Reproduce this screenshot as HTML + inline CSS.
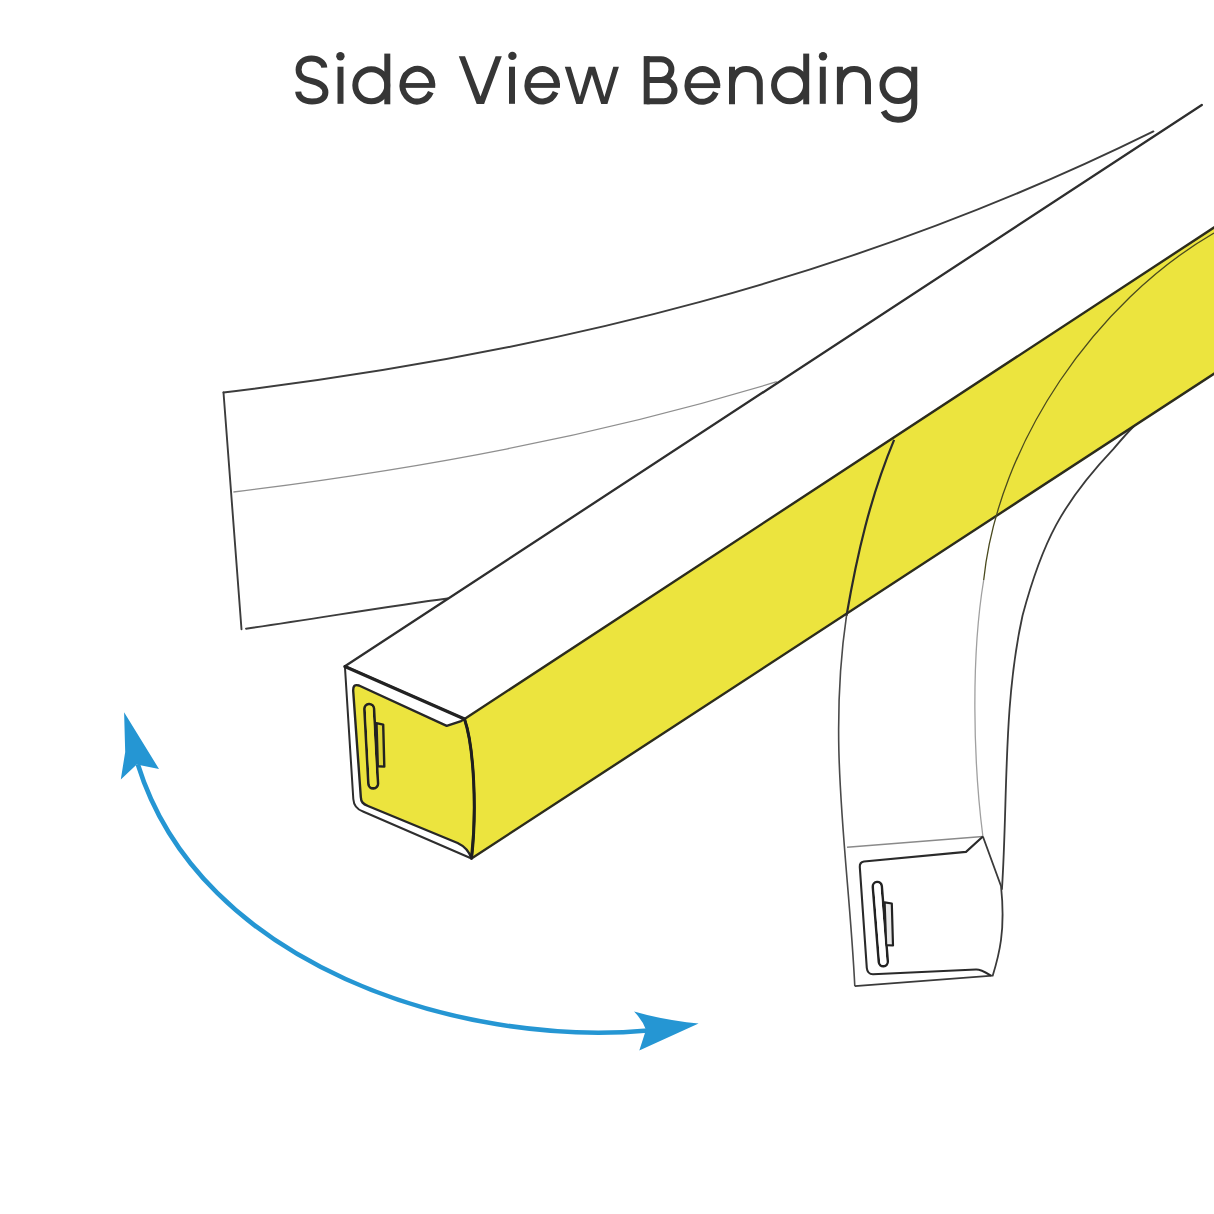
<!DOCTYPE html>
<html>
<head>
<meta charset="utf-8">
<title>Side View Bending</title>
<style>
html,body{margin:0;padding:0;background:#fff;}
body{width:1214px;height:1214px;overflow:hidden;position:relative;font-family:"Liberation Sans",sans-serif;}
svg{position:absolute;left:0;top:0;display:block;}
</style>
</head>
<body>
<svg width="1214" height="1214" viewBox="0 0 1214 1214">
<defs>
<clipPath id="wclip"><rect x="560" y="66.7" width="65" height="37.1"/></clipPath>
</defs>
<rect width="1214" height="1214" fill="#fff"/>

<!-- TITLE -->
<g fill="none" stroke="#363636" stroke-width="6" stroke-linecap="butt">
  <!-- S -->
  <path d="M 324.3,67.6 C 324,62.5 318.5,58.6 311.5,58.6 C 303.5,58.6 298.6,63.2 298.6,69.8 C 298.6,77.2 304.5,79.4 311.5,81 C 319.5,82.8 325.4,85.4 325.4,92.4 C 325.4,98.3 320,101.4 312,101.4 C 303.5,101.4 298.4,97 298.2,91.6"/>
  <!-- i -->
  <path d="M 340.5,66.7 V 103.8"/>
  <!-- d -->
  <ellipse cx="371.3" cy="85.2" rx="16" ry="16"/>
  <path d="M 387.3,53.6 V 104.3"/>
  <!-- e -->
  <path d="M 432.20,85.65 A 14.85,16.35 0 1 0 430.81,92.16"/>
  <rect x="402.50" y="83.05" width="32.70" height="4.8" fill="#363636" stroke="none"/>
  <!-- i -->
  <path d="M 512,66.7 V 103.8"/>
  <!-- e -->
  <path d="M 556.95,85.65 A 14.75,16.15 0 1 0 555.57,92.08"/>
  <rect x="527.45" y="83.05" width="32.50" height="4.8" fill="#363636" stroke="none"/>
  <!-- w -->
  
  <!-- B -->
  <path d="M 646.7,56.1 V 104.3"/>
  <path d="M 646.7,59.2 H 661.05 A 10.35,10.35 0 0 1 661.05,79.9 H 646.7 M 646.7,79.9 H 663.85 A 10.65,10.65 0 0 1 663.85,101.2 H 646.7"/>
  <!-- e -->
  <path d="M 717.20,85.85 A 14.85,16.35 0 1 0 715.81,92.36"/>
  <rect x="687.50" y="83.25" width="32.70" height="4.8" fill="#363636" stroke="none"/>
  <!-- n -->
  <path d="M 732,66.7 V 104.3 M 732,86 C 732,75 738.5,69.1 746,69.1 C 754.5,69.1 759.8,74.5 759.8,83.5 V 104.3"/>
  <!-- d -->
  <ellipse cx="790.05" cy="85.2" rx="16" ry="16"/>
  <path d="M 806.2,53.6 V 104.3"/>
  <!-- i -->
  <path d="M 822.8,66.7 V 103.8"/>
  <!-- n -->
  <path d="M 839.9,66.7 V 104.3 M 839.9,86 C 839.9,75 846.5,69.1 854,69.1 C 862.5,69.1 868,74.5 868,83.5 V 104.3"/>
  <!-- g -->
  <ellipse cx="898.3" cy="85.2" rx="15.8" ry="15.8"/>
  <path d="M 914.25,66.7 V 104 C 914.25,114.5 907.5,119.7 898,119.7 C 891,119.7 886,116.5 883.5,111"/>
</g>
<g fill="#363636">
  <circle cx="340.4" cy="56.2" r="4.2"/>
  <circle cx="512.4" cy="55.9" r="4.2"/>
  <circle cx="823" cy="56.2" r="4.2"/>
  <polygon points="458.8,56.2 465,56.2 480.5,96.6 495.6,56.2 501.8,56.2 484.1,104 476.7,104"/>
  <polygon points="564.8,66.7 570.7,66.7 579.8,96.9 588.6,66.7 595.1,66.7 604.4,96.9 613.3,66.7 618.9,66.7 607.4,103.9 601.2,103.9 591.9,74.5 582.5,103.9 576.3,103.9"/>
</g>

<!-- GHOST BAR (top-left, curved) -->
<g fill="none" stroke="#3c3c3c" stroke-width="1.9" stroke-linecap="round">
  <path d="M 223.5,392.5 C 550.4,353.1 857.8,277.3 1153.4,131.4"/>
  <path d="M 223.5,392.5 L 241.5,629.2"/>
  <path d="M 246,628.7 C 320,618 390,606 447.5,598.5"/>
</g>
<path d="M 233.4,492.0 C 420.3,468.9 596.3,436.6 776.8,381.7" fill="none" stroke="#8f8f8f" stroke-width="1.3"/>

<!-- MAIN BAR top edge line -->
<path d="M 344.9,666.2 L 1201.8,105" fill="none" stroke="#2e2e2e" stroke-width="2.3" stroke-linecap="round"/>

<!-- BENT BAR (lower right) lines below yellow -->
<g fill="none">
  <path d="M 846.5,615.7 C 827.3,746.1 848.4,856.2 854.8,986.1" stroke="#4a4a4a" stroke-width="1.6"/>
  <path d="M 983.7,580.0 C 971,656.3 973.1,760.4 982.9,836.5" stroke="#a0a0a0" stroke-width="1.3"/>
  <path d="M 1134.5,425.5 C 1127,433 1121,440 1113.5,448.9 C 1062.0,503.2 1042.1,542.5 1022.6,615.3 C 1002.9,703.7 1007.9,799.7 1001.9,889.8" stroke="#3a3a3a" stroke-width="1.8"/>
</g>

<!-- YELLOW SIDE FACE -->
<path d="M 464.5,719 L 1214,227.5 L 1214,373.8 L 471.5,858.5 C 477,810 474,747 464.5,719 Z" fill="#ece43e"/>
<g fill="none" stroke="#2c2c1c" stroke-linecap="round">
  <path d="M 464.5,719 L 1216,226.2" stroke-width="2.4"/>
  <path d="M 471.5,858.5 L 1216,372.5" stroke-width="2.4"/>
</g>
<!-- lines on yellow -->
<path d="M 894.1,439.9 C 870.1,497.6 857.1,554.4 846.5,615.7" fill="none" stroke="#2a2a2a" stroke-width="2.2"/>
<path d="M 1214.0,233.0 C 1095.6,301.7 997.9,443.3 983.7,580.0" fill="none" stroke="#4a4a1e" stroke-width="1.3"/>

<!-- MAIN FRONT FACE -->
<path d="M 344.9,666.2 L 353.3,799 C 353.8,806 357,809.5 363,811.5 L 471.5,858.5 C 477,810 474,747 464.5,719 Z" fill="#fff" stroke="#2e2e2e" stroke-width="2" stroke-linejoin="round"/>
<path d="M 344.9,666.6 L 464.5,719" fill="none" stroke="#222" stroke-width="3.3" stroke-linecap="round"/>
<path d="M 353.2,691 C 353,686 354.5,684.2 359,685.5 L 446.7,725.8 L 461.1,721.1 L 464.5,719 C 474,747 477,810 471.5,858.5 C 469,851 464,846 457.6,843 L 368,806 C 363,804 361,802 360.8,797 Z" fill="#ece43e" stroke="#262626" stroke-width="2.4" stroke-linejoin="round"/>
<path d="M 464.5,719 C 474,747 477,810 471.5,858.5" fill="none" stroke="#1e1e1e" stroke-width="3"/>
<!-- slot -->
<path d="M 369.2,708.8 L 373.2,783.6" stroke="#222" stroke-width="12.2" stroke-linecap="round"/>
<path d="M 369.2,708.8 L 373.2,783.6" stroke="#ece43e" stroke-width="6.8" stroke-linecap="round"/>
<path d="M 376.5,723.2 L 383.2,724.6 L 384.3,766.6 L 377.8,766.2 Z" fill="#ddd53a" stroke="#222" stroke-width="2.4" stroke-linejoin="round"/>
<path d="M 369.2,708.8 L 373.2,783.6" stroke="#ece43e" stroke-width="6.8" stroke-linecap="round"/>

<!-- BENT FRONT FACE -->
<path d="M 847,847.2 L 982.9,836.5" fill="none" stroke="#8a8a8a" stroke-width="1.4"/>
<path d="M 982.9,836.5 L 1001,886 C 1003,905 1003,925 1001,940 C 999,955 996,965 992.7,975.7 L 854.8,986.1" fill="none" stroke="#3a3a3a" stroke-width="1.8" stroke-linejoin="round"/>
<path d="M 982.9,836.5 L 966,851.9 L 864,861.5 C 861,862 859.6,864 859.8,867 L 866.8,968 C 867.2,972 869,974.2 873,974.2 L 976,969.5 C 981,969.3 985,972 991.2,975.7" fill="none" stroke="#2a2a2a" stroke-width="2.1" stroke-linejoin="round"/>
<path d="M 877.3,886.5 L 883.3,961.8" stroke="#222" stroke-width="11.5" stroke-linecap="round"/>
<path d="M 877.3,886.5 L 883.3,961.8" stroke="#fff" stroke-width="6.3" stroke-linecap="round"/>
<path d="M 884.6,902.3 L 891.8,903.5 L 893,945.5 L 886.2,945.2 Z" fill="#e8e8e8" stroke="#222" stroke-width="2.2" stroke-linejoin="round"/>
<path d="M 877.3,886.5 L 883.3,961.8" stroke="#fff" stroke-width="6.3" stroke-linecap="round"/>

<!-- BLUE ARROW -->
<path d="M 137.8,764.2 C 199.9,965.1 459.5,1047.4 648.0,1030.5" fill="none" stroke="#2596d3" stroke-width="4.6"/>
<path d="M 124.1,712.2 L 159,769 L 136.7,764.5 L 120.8,779.4 L 125.2,751.9 Z" fill="#2596d3"/>
<path d="M 698.6,1023.4 Q 665,1020.5 634.1,1011.5 Q 643,1021 646,1029.7 L 639.3,1050.4 Z" fill="#2596d3"/>
</svg>
</body>
</html>
